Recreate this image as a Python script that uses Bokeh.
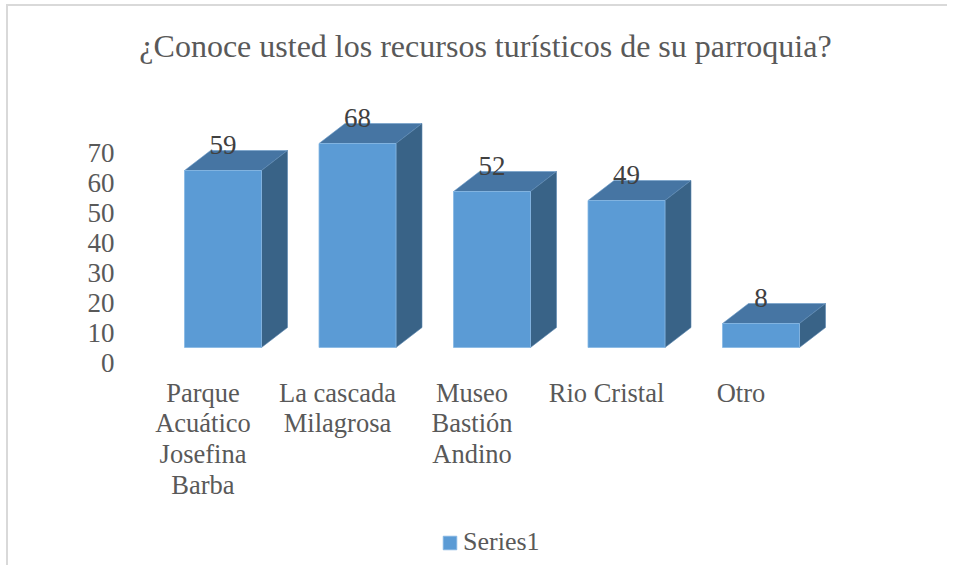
from bokeh.plotting import figure
from bokeh.models import Range1d, LinearAxis, FixedTicker, Label, Legend, LegendItem
from bokeh.core.properties import value
from bokeh.embed import file_html
from bokeh.resources import INLINE

# ---------------- data ----------------
title_text = "¿Conoce usted los recursos turísticos de su parroquia?"
categories = ["Parque\nAcuático\nJosefina\nBarba", "La cascada\nMilagrosa",
              "Museo\nBastión\nAndino", "Rio Cristal", "Otro"]
values = [59, 68, 52, 49, 8]
y_ticks = [0, 10, 20, 30, 40, 50, 60, 70]
series_name = "Series1"

# ---------------- layout / style (pixels) ----------------
OX, OY = 8, 6       # canvas offset inside the page (after the grey chart border)
W, H = 941, 561
ML = 125 - OX       # room for the value axis
BASE_Y = 347 - OY   # pixel row of value 0 (front face), canvas coords
PX_PER_UNIT = 3.0   # pixels per value unit
X0 = 222.5 - OX     # pixel column of first category centre, canvas coords
STEP = 134.5        # pixels per category
BAR_W = 77          # front face width, px
DX, DY = 26, 20     # 3-D depth offset, px
AXIS_SHIFT = 15     # tick labels sit below the front-face level, px
FONT = "Liberation Serif, Times New Roman, serif"
FRONT, TOP, SIDE = "#5B9BD5", "#4675A3", "#396387"

x_lo, x_hi = (ML - X0) / STEP, (W - X0) / STEP
y_lo, y_hi = (BASE_Y - H) / PX_PER_UNIT, BASE_Y / PX_PER_UNIT

p = figure(width=W, height=H, x_range=Range1d(x_lo, x_hi), y_range=Range1d(y_lo, y_hi),
           output_backend="svg", toolbar_location=None,
           min_border_left=ML, min_border_right=0, min_border_top=0, min_border_bottom=0,
           x_axis_type=None, y_axis_type=None)
p.outline_line_color = None
p.background_fill_color = "white"
p.border_fill_color = "white"
# light grey chart-area border (left and top edges, as visible in the reference)
p.styles = {"margin-left": "6px", "margin-top": "4px",
            "border-left": "2px solid #d9d9d9", "border-top": "2px solid #d9d9d9"}

# value axis (shifted range so labels sit where the reference draws them)
shift = AXIS_SHIFT / PX_PER_UNIT
p.extra_y_ranges = {"ticks": Range1d(y_lo + shift, y_hi + shift)}
axis = LinearAxis(y_range_name="ticks", ticker=FixedTicker(ticks=y_ticks),
                  axis_line_color=None, major_tick_line_color=None, minor_tick_line_color=None,
                  major_label_text_font=FONT, major_label_text_font_size="27px",
                  major_label_text_color="#595959", major_label_standoff=5)
p.add_layout(axis, "left")

# 3-D bars
bw = BAR_W / STEP
dxu = DX / STEP
dyu = DY / PX_PER_UNIT
idx = list(range(len(values)))
lefts = [i - bw / 2 for i in idx]
rights = [i + bw / 2 for i in idx]

top_xs = [[l, r, r + dxu, l + dxu] for l, r in zip(lefts, rights)]
top_ys = [[v, v, v + dyu, v + dyu] for v in values]
side_xs = [[r, r + dxu, r + dxu, r] for r in rights]
side_ys = [[0, dyu, v + dyu, v] for v in values]

p.patches(top_xs, top_ys, fill_color=TOP, line_color="#6d9cc9", line_width=0.6)
p.patches(side_xs, side_ys, fill_color=SIDE, line_color="#5a86b0", line_width=0.6)
front = p.quad(left=lefts, right=rights, bottom=[0] * len(values), top=values,
               fill_color=FRONT, line_color="#86b7e3", line_width=0.8)

# value labels
p.text(x=idx, y=values, text=[str(v) for v in values], x_offset=0, y_offset=-(DY + 6),
       text_align="center", text_baseline="middle", text_font=value(FONT),
       text_font_size="27px", text_color="#404040")

# category labels
p.text(x=idx, y=[0] * len(values), text=categories, x_offset=-20, y_offset=30,
       text_align="center", text_baseline="top", text_font=value(FONT),
       text_font_size="26.5px", text_color="#595959", text_line_height=1.03)

# title
p.add_layout(Label(x=(485 - OX - X0) / STEP, y=(BASE_Y - (45 - OY)) / PX_PER_UNIT,
                   text=title_text, text_align="center", text_baseline="middle",
                   text_font=FONT, text_font_size="32px", text_color="#595959"))

# legend (location is relative to the frame's bottom-left corner)
legend = Legend(items=[LegendItem(label=series_name, renderers=[front])],
                location=(316, 4 + OY), orientation="horizontal",
                border_line_color=None, background_fill_alpha=0, padding=0, margin=0,
                glyph_width=17, glyph_height=17, label_standoff=5,
                label_text_font=FONT, label_text_font_size="26px", label_text_color="#595959")
p.add_layout(legend)

open("out.html", "w").write(file_html(p, INLINE))
